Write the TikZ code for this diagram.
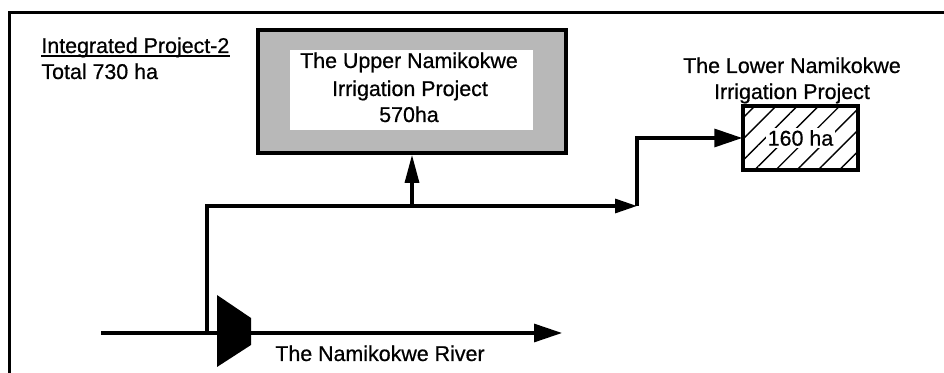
\documentclass[tikz,border=0pt]{standalone}
\usepackage{fontspec}
\setmainfont{Liberation Sans}[FakeBold=0.6]
\usetikzlibrary{arrows.meta,patterns.meta}

\begin{document}
\begin{tikzpicture}[x=0.5pt,y=-0.5pt, font=\fontsize{10.7}{12}\selectfont,
  frame/.style={line width=1.5pt},
  flow/.style={line width=1.6pt},
  upperbox/.style={draw, line width=1.8pt, fill=black!28, minimum width=154pt, minimum height=61.5pt, inner sep=0pt},
  innerbox/.style={fill=white, minimum width=121.5pt, minimum height=40pt, inner sep=0pt},
  lowerbox/.style={draw, line width=1.8pt, pattern={Lines[angle=45,distance=7.5pt,line width=0.7pt]}, minimum width=57.5pt, minimum height=32pt, inner sep=0pt},
  lbl/.style={anchor=base, inner sep=0pt}]

\useasboundingbox (0,0) rectangle (944,373);

% frame, only top and left edges are in the picture
\draw[frame] (944,13) -- (9,13) -- (9,373);

\node[anchor=base west, inner sep=0pt] (title) at (41,53) {Integrated Project-2};
\draw[line width=0.6pt] ([yshift=-1.5pt]title.base west) -- ([yshift=-1.5pt]title.base east);
\node[anchor=base west, inner sep=0pt] (total) at (41,79) {Total 730 ha};

% upper project
\node[upperbox] (upper) at (412,91.5) {};
\node[innerbox] (upperin) at (411.5,90) {};
\node[lbl] (up1) at (409,68) {The Upper Namikokwe};
\node[lbl] (up2) at (410,96) {Irrigation Project};
\node[lbl] (up3) at (409,122) {570ha};

% lower project
\node[lbl] (low1) at (792,73) {The Lower Namikokwe};
\node[lbl] (low2) at (792,99) {Irrigation Project};
\node[lowerbox] (lower) at (800.5,138) {};
\node[fill=white, inner sep=1pt] (lowerha) at (lower) {160 ha};

% river and intake
\coordinate (src) at (101,333);
\coordinate (mouth) at (562,333);
\draw[flow, -{Triangle[length=14pt,width=9pt]}] (src) -- (mouth);
\fill (217,295) -- (251,318) -- (251,345) -- (217,367) -- cycle;
\node[lbl] (river) at (380,361) {The Namikokwe River};

% canal
\coordinate (intake) at (207,333);
\coordinate (split) at (637,206);
\coordinate (tee) at (upper.south |- split);
\draw[flow, -{Triangle[length=11pt,width=7pt]}] (intake) |- (split);
\draw[flow, -{Triangle[length=14pt,width=7pt]}] (tee) -- (upper.south);
\draw[flow, -{Triangle[length=14pt,width=9pt]}] (split) |- (lower.west);
\end{tikzpicture}
\end{document}
